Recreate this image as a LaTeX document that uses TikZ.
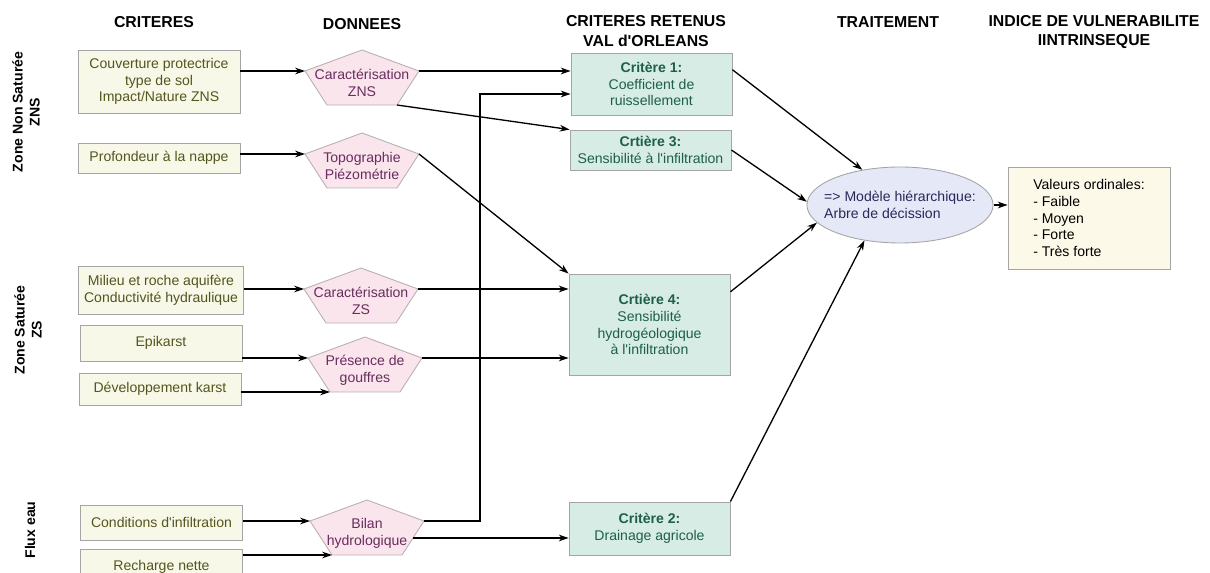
\documentclass[tikz,border=0pt]{standalone}
\usepackage{fontspec}
\setmainfont{Liberation Sans}
\usepackage{tikz}
\usetikzlibrary{
  shapes.geometric,
  arrows.meta,
  calc,
  backgrounds
}
\definecolor{critfill}{RGB}{247,248,232}
\definecolor{crittext}{RGB}{85,85,30}
\definecolor{pentfill}{RGB}{250,229,237}
\definecolor{pentgray}{RGB}{185,175,180}
\definecolor{pentext}{RGB}{105,45,95}
\definecolor{greenfill}{RGB}{214,236,228}
\definecolor{greentext}{RGB}{30,95,75}
\definecolor{ellfill}{RGB}{229,232,246}
\definecolor{elltext}{RGB}{40,40,90}
\definecolor{outfill}{RGB}{253,249,233}
\definecolor{boxgray}{RGB}{165,165,165}
\newcommand\bodyfont{\fontsize{8}{9.6}\selectfont}
\newcommand\apos{\textquotesingle}

\begin{document}
\begin{tikzpicture}[
  x=0.02cm, y=-0.02cm,
  head/.style={font=\fontsize{9}{11.3}\selectfont\bfseries, align=center},
  zone/.style={font=\bodyfont\bfseries, align=center, rotate=90},
  crit/.style={rectangle, draw=boxgray, line width=0.5pt, fill=critfill, text=crittext, minimum width=3.24cm, font=\bodyfont, align=center},
  data/.style={text=pentext, font=\bodyfont, align=center, inner sep=0pt},
  pentshape/.style={draw=pentgray, line width=0.5pt, fill=pentfill},
  retenu/.style={rectangle, draw=boxgray, line width=0.5pt, fill=greenfill, text=greentext, minimum width=3.22cm, font=\bodyfont, align=center},
  ell/.style={ellipse, draw=boxgray, line width=0.5pt, fill=ellfill, text=elltext, minimum width=3.72cm, minimum height=1.52cm, inner xsep=-0.2cm, inner ysep=0pt, font=\bodyfont, align=left},
  outbox/.style={rectangle, draw=boxgray, line width=0.5pt, fill=outfill, text=black, minimum width=3.24cm, minimum height=2.04cm, font=\bodyfont, align=left},
  arr/.style={-{Stealth[length=5.6pt,width=3.8pt]}, line width=0.75pt}
]
  \useasboundingbox (0,0) rectangle (1210,573);
  \clip (0,0) rectangle (1210,573);

  % column headers
  \node[head] (hcrit) at (154,22) {CRITERES};
  \node[head] (hdata) at (362,24) {DONNEES};
  \node[head] (hret) at (646,31) {CRITERES RETENUS\\VAL d\apos ORLEANS};
  \node[head] (htrait) at (888,22) {TRAITEMENT};
  \node[head] (hind) at (1094,32) {INDICE DE VULNERABILITE\\IINTRINSEQUE};

  % zones
  \node[zone] (zns) at (26,112) {Zone Non Saturée\\ZNS};
  \node[zone] (zs) at (28,330) {Zone Saturée\\ZS};
  \node[zone] (flux) at (30,530) {Flux eau};

  % criteres
  \node[crit, minimum height=1.26cm] (c1) at (159,81.5) {Couverture protectrice\\type de sol\\Impact/Nature ZNS};
  \node[crit, minimum height=0.6cm] (c2) at (159,158) {Profondeur à la nappe};
  \node[crit, minimum height=0.96cm] (c3) at (161,290) {Milieu et roche aquifère\\Conductivité hydraulique};
  \node[crit, minimum height=0.72cm] (c4) at (161,343) {Epikarst};
  \node[crit, minimum height=0.64cm] (c5) at (160,389) {Développement karst};
  \node[crit, minimum height=0.7cm] (c6) at (161.5,522.5) {Conditions d\apos infiltration};
  \node[crit, minimum height=0.72cm] (c7) at (161.5,567) {Recharge nette};

  % donnees
  \node[data] (p1) at (362,83) {Caractérisation\\ZNS};
  \node[data] (p2) at (362,166) {Topographie\\Piézométrie};
  \node[data] (p3) at (361,301) {Caractérisation\\ZS};
  \node[data] (p4) at (365,370) {Présence de\\gouffres};
  \node[data] (p5) at (367,533) {Bilan\\hydrologique};

  \begin{scope}[on background layer]
    \foreach \p in {p1,p2,p3,p4,p5}{
      \coordinate (\p-t) at ($(\p.center)+(0,-33)$);
      \coordinate (\p-l) at ($(\p.center)+(-57,-12)$);
      \coordinate (\p-r) at ($(\p.center)+(57,-12)$);
      \coordinate (\p-bl) at ($(\p.center)+(-35,22)$);
      \coordinate (\p-br) at ($(\p.center)+(35,22)$);
      \filldraw[pentshape] (\p-t) -- (\p-r) -- (\p-br) -- (\p-bl) -- (\p-l) -- cycle;
    }
  \end{scope}

  % criteres retenus
  \node[retenu, minimum height=1.24cm] (g1) at (651.5,84) {\textbf{Critère 1:}\\Coefficient de\\ruissellement};
  \node[retenu, minimum height=0.8cm] (g3) at (650.5,150) {\textbf{Crtière 3:}\\Sensibilité à l\apos infiltration};
  \node[retenu, minimum height=2.02cm] (g4) at (649.5,324.5) {\textbf{Crtière 4:}\\Sensibilité\\hydrogéologique\\à l\apos infiltration};
  \node[retenu, minimum height=1.06cm] (g2) at (649.5,528.5) {\textbf{Critère 2:}\\Drainage agricole};

  % traitement et indice
  \node[ell] (ell) at (900,205) {=> Modèle hiérarchique:\\Arbre de décission};
  \node[outbox] (out) at (1089,218) {Valeurs ordinales:\\- Faible\\- Moyen\\- Forte\\- Très forte};

  % criteres -> donnees
  \draw[arr] (c1.east |- p1-l) -- (p1-l);
  \draw[arr] (c2.east |- p2-l) -- (p2-l);
  \draw[arr] (c3.east |- p3-l) -- (p3-l);
  \draw[arr] (c4.east |- p4-l) -- (p4-l);
  \draw[arr] (c5.east |- p4-bl) -- (p4-bl);
  \draw[arr] (c6.east |- p5-l) -- (p5-l);
  \draw[arr] (c7.east |- p5-bl) -- (p5-bl);

  % donnees -> criteres retenus
  \coordinate (up) at (480,94);
  \coordinate (p5-m) at ($(p5-r)!0.5!(p5-br)$);
  \draw[arr] (p1-r) -- (g1.west |- p1-r);
  \draw[arr] (p1-br) -- (g3.north west);
  \draw[arr] (p2-r) -- (g4.north west);
  \draw[arr] (p3-r) -- (g4.west |- p3-r);
  \draw[arr] (p4-r) -- (g4.west |- p4-r);
  \draw[arr] (p5-r) -| (up) -- (up -| g1.west);
  \draw[arr] (p5-m) -- (g2.west |- p5-m);

  % criteres retenus -> traitement -> indice
  \draw[arr] (g1.10) -- (ell.137);
  \draw[arr] (g3.east) -- (ell.178);
  \draw[arr] (g4.22) -- (ell.192);
  \draw[arr] (g2.north east) -- (ell.225);
  \draw[arr] (ell.east) -- (out.west |- ell.east);
\end{tikzpicture}
\end{document}
